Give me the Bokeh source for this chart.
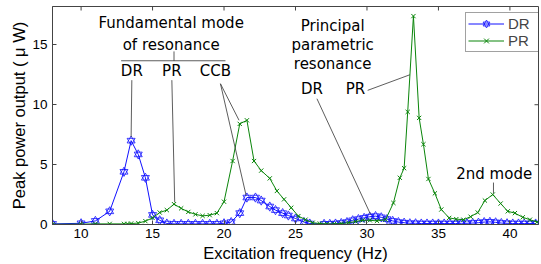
from bokeh.plotting import figure
from bokeh.models import Range1d, FixedTicker, Legend, LegendItem
from bokeh.core.properties import value
from bokeh.embed import file_html
from bokeh.resources import INLINE
import math

# ---------------- data ----------------
dr_freq = [8, 10, 11, 12, 13, 13.5, 14, 14.5, 15, 15.5, 16, 16.5, 17, 17.5, 18, 18.5,
           19, 19.5, 20, 20.5, 21.1, 21.6, 22.2, 22.6, 23.2, 23.6, 24.1, 24.5, 25, 25.6, 26,
           27.0, 27.4, 27.8, 28.2, 28.6, 29.0, 29.4, 29.8, 30.2, 30.6, 31.0, 31.4, 31.8,
           32.2, 32.6, 33.0, 33.4, 33.8, 34.2, 34.6, 35.0, 35.4, 35.8, 36.2, 36.6, 37.0,
           37.4, 37.8, 38.2, 38.6, 39.0, 39.4, 39.8, 40.2, 40.6, 41.0, 41.4, 41.8]
dr_power = [0.05, 0.1, 0.3, 1.1, 4.4, 7.0, 5.85, 3.9, 0.8, 0.35, 0.08, 0.05, 0.05, 0.05, 0.05, 0.05,
            0.05, 0.05, 0.1, 0.2, 0.95, 2.25, 2.25, 2.0, 1.5, 1.2, 0.95, 0.75, 0.5, 0.2, 0.08,
            0.05, 0.05, 0.08, 0.12, 0.2, 0.35, 0.45, 0.55, 0.65, 0.7, 0.6, 0.45, 0.3,
            0.2, 0.15, 0.1, 0.1, 0.08, 0.08, 0.08, 0.08, 0.08, 0.08, 0.08, 0.1, 0.1,
            0.12, 0.15, 0.2, 0.22, 0.18, 0.12, 0.1, 0.08, 0.08, 0.08, 0.08, 0.08]

pr_freq = [8, 10, 11, 12, 13, 13.25, 13.5, 14, 14.5, 15, 15.5, 16, 16.5, 17, 17.5, 18, 18.5,
           19, 19.5, 20, 20.6, 21.1, 21.6, 22.1, 22.6, 23.2, 23.7, 24.2, 24.7, 25.2, 25.7,
           26.2, 26.7, 27.2, 27.7, 28.2, 28.7, 29.2, 29.7, 30.2, 30.7, 31.3, 31.85, 32.3,
           32.6, 32.85, 33.25, 33.65, 33.95, 34.3, 34.75, 35.2, 35.75, 36.25, 36.75, 37.25,
           37.75, 38.25, 38.8, 39.35, 39.85, 40.35, 40.9, 41.4, 41.9]
pr_power = [0.02, 0.03, 0.05, 0.05, 0.05, 0.05, 0.08, 0.12, 0.28, 0.55, 1.0, 1.2, 1.7, 1.35, 1.05, 0.85, 0.72,
            0.78, 0.95, 1.9, 5.3, 8.4, 8.7, 5.3, 4.5, 3.85, 2.8, 2.1, 1.4, 0.7, 0.4,
            0.15, 0.08, 0.05, 0.05, 0.08, 0.15, 0.25, 0.35, 0.35, 0.3, 0.4, 1.8, 3.9,
            4.7, 9.4, 17.4, 8.9, 6.7, 3.8, 2.6, 1.25, 0.55, 0.45, 0.4, 0.65,
            1.0, 2.0, 2.5, 1.75, 1.1, 0.95, 0.6, 0.4, 0.2]

x_ticks = [10, 15, 20, 25, 30, 35, 40]
y_ticks = [0, 5, 10, 15]
series_names = ["DR", "PR"]

# annotation texts (positions in data units)
ann_texts = ["Fundamental mode", "of resonance", "DR", "PR", "CCB",
             "Principal", "parametric", "resonance", "DR", "PR", "2nd mode"]
ann_x = [16.3, 16.3, 13.55, 16.35, 19.4, 27.6, 27.6, 27.6, 26.15, 29.2, 38.9]
ann_y = [16.8, 15.0, 12.85, 12.85, 12.85, 16.6, 15.0, 13.4, 11.3, 11.3, 4.25]

# leader lines
lead_x0 = [12.8, 16.5, 13.55, 16.35, 19.75, 19.75, 26.5, 30.05, 38.85]
lead_y0 = [13.67, 14.45, 12.05, 12.05, 11.75, 11.75, 10.5, 11.2, 3.5]
lead_x1 = [20.1, 16.5, 13.5, 16.55, 21.05, 21.55, 30.25, 33.0, 38.85]
lead_y1 = [13.67, 13.67, 7.3, 1.85, 8.7, 2.4, 0.85, 12.5, 2.6]

X_MIN, X_MAX = 8, 42
Y_MIN, Y_MAX = 0, 18.2

BLUE = "#1010ff"
GREEN = "#0a850a"
AXC = "#444444"
FONT = "Liberation Sans"

p = figure(width=539, height=264, output_backend="svg", toolbar_location=None,
           x_range=Range1d(X_MIN, X_MAX), y_range=Range1d(Y_MIN, Y_MAX),
           min_border_left=52, min_border_right=1, min_border_top=6, min_border_bottom=30)
p.background_fill_color = "white"
p.border_fill_color = "white"
p.outline_line_color = AXC
p.grid.visible = False

for ax in (p.xaxis[0], p.yaxis[0]):
    ax.major_tick_in = 4
    ax.major_tick_out = 0
    ax.minor_tick_line_color = None
    ax.axis_line_color = AXC
    ax.major_tick_line_color = AXC
    ax.major_label_text_font = FONT
    ax.major_label_text_font_size = "13.5px"
    ax.major_label_text_color = "black"
    ax.axis_label_text_font = FONT
    ax.axis_label_text_font_size = "16.5px"
    ax.axis_label_text_font_style = "normal"
    ax.axis_label_text_color = "black"

p.xaxis.ticker = FixedTicker(ticks=x_ticks)
p.yaxis.ticker = FixedTicker(ticks=y_ticks)
p.xaxis.axis_label = "Excitation frequency (Hz)"
p.yaxis.axis_label = "Peak power output ( \u03bc W)"
p.xaxis.major_label_standoff = 4
p.yaxis.major_label_standoff = 5
p.xaxis.axis_label_standoff = 3
p.yaxis.axis_label_standoff = 1

# box ticks on top and right edges (dash markers, clipped to frame -> inward ticks)
p.scatter(x=x_ticks, y=[Y_MAX] * len(x_ticks), marker="dash", angle=math.pi / 2, size=8,
          line_color=AXC, line_width=1)
p.scatter(x=[X_MAX] * len(y_ticks), y=y_ticks, marker="dash", size=8,
          line_color=AXC, line_width=1)

# lines + markers
dr_line = p.line(dr_freq, dr_power, line_color=BLUE, line_width=1)
dr_m1 = p.scatter(dr_freq, dr_power, marker="triangle", size=8, fill_color=None, line_color=BLUE, line_width=0.8)
dr_m2 = p.scatter(dr_freq, dr_power, marker="inverted_triangle", size=8, fill_color=None, line_color=BLUE, line_width=0.8)
pr_line = p.line(pr_freq, pr_power, line_color=GREEN, line_width=1)
pr_m = p.scatter(pr_freq, pr_power, marker="x", size=6, line_color=GREEN, line_width=1)

# leader lines
p.segment(x0=lead_x0, y0=lead_y0, x1=lead_x1, y1=lead_y1, line_color="#333333", line_width=0.8)

# annotation texts
p.text(x=ann_x, y=ann_y, text=ann_texts, text_font=value("DejaVu Sans"), text_font_size="15px",
       text_align="center", text_baseline="middle", text_color="black")

legend = Legend(items=[LegendItem(label=series_names[0], renderers=[dr_line, dr_m1, dr_m2]),
                       LegendItem(label=series_names[1], renderers=[pr_line, pr_m])],
                location=(413, 172))
legend.label_text_font = FONT
legend.label_text_font_size = "15px"
legend.label_height = 17
legend.label_width = 28
legend.glyph_height = 17
legend.glyph_width = 36
legend.label_standoff = 4
legend.spacing = 0
legend.padding = 2
legend.margin = 0
legend.border_line_color = AXC
legend.background_fill_alpha = 1
p.add_layout(legend)

open("out.html", "w").write(file_html(p, INLINE))
